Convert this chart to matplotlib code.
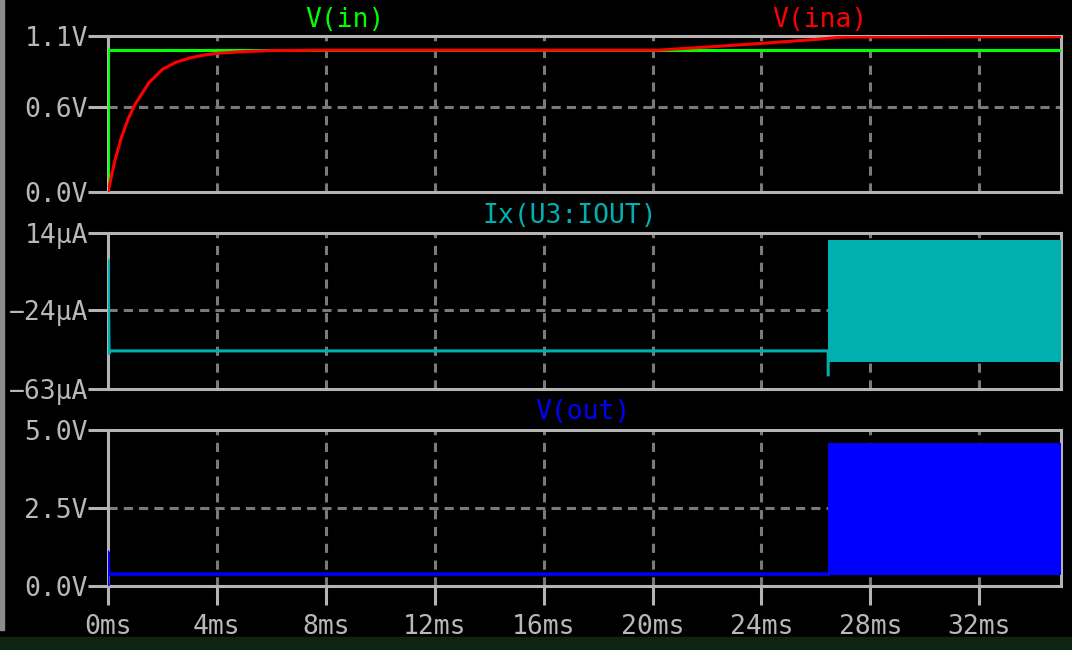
import numpy as np
import matplotlib
matplotlib.use('Agg')
import matplotlib.pyplot as plt
from matplotlib.patches import Rectangle

# ---- data (time in ms) ----
t_in = [0.0, 0.0, 35.0]
v_in = [0.0, 1.0, 1.0]

t_ina = [0.0, 0.25, 0.5, 0.75, 1.0, 1.5, 2.0, 2.5, 3.0, 3.5, 4.0, 5.0, 6.0, 8.0,
         20.2, 21.0, 22.0, 23.0, 24.0, 25.0, 26.0, 27.0, 35.0]
v_ina = [0.0, 0.22, 0.39, 0.52, 0.62, 0.77, 0.865, 0.915, 0.945, 0.965, 0.978, 0.99, 0.997, 1.0,
         1.0, 1.01, 1.022, 1.035, 1.048, 1.062, 1.076, 1.093, 1.095]

t_iout = [0.0, 0.0, 0.04, 0.08, 26.45, 26.45]
i_iout = [-44.2, 0.7, -45.5, -44.2, -44.2, -56.0]
t_iout_osc = [26.45, 35.0]
i_osc_hi = [10.5, 10.5]
i_osc_lo = [-49.5, -49.5]

t_out = [0.0, 0.0, 0.03, 26.45]
v_out = [0.0, 1.09, 0.38, 0.38]
t_out_osc = [26.43, 35.0]
v_osc_hi = [4.58, 4.58]
v_osc_lo = [0.35, 0.35]

xticks = [0, 4, 8, 12, 16, 20, 24, 28, 32]
xlabels = ['{}ms'.format(x) for x in xticks]

FRAME = '#b4b4b4'
GRID = '#7a7a7a'
TXT = '#b8b8b8'
FONT = 'DejaVu Sans Mono'

plt.rcParams['font.family'] = [FONT, 'DejaVu Sans']

fig = plt.figure(figsize=(10.72, 6.5), dpi=100, facecolor='black')

# window edge decorations
fig.add_artist(Rectangle((0, 0), 1, 13 / 650, transform=fig.transFigure,
                         color='#0c2410', zorder=0))
fig.add_artist(Rectangle((0, 20 / 650), 4 / 1072, 1 - 20 / 650, transform=fig.transFigure,
                         color='#8c8c8c', zorder=1))

left, width = 108 / 1072, 953 / 1072
h = 156 / 650
panels = [
    dict(bottom=1 - 192 / 650, ylim=(0, 1.1), yticks=[0.0, 0.6, 1.1],
         ylabels=['0.0V', '0.6V', '1.1V'], grid=0.6),
    dict(bottom=1 - 389 / 650, ylim=(-63, 14), yticks=[-63, -24, 14],
         ylabels=['\u221263\u00b5A', '\u221224\u00b5A', '14\u00b5A'], grid=-24),
    dict(bottom=1 - 586 / 650, ylim=(0, 5), yticks=[0.0, 2.5, 5.0],
         ylabels=['0.0V', '2.5V', '5.0V'], grid=2.5),
]

axes = []
for i, p in enumerate(panels):
    ax = fig.add_axes([left, p['bottom'], width, h], facecolor='black')
    ax.set_xlim(0, 35)
    ax.set_ylim(*p['ylim'])
    for s in ax.spines.values():
        s.set_color(FRAME)
        s.set_linewidth(2.2)
    ax.set_yticks(p['yticks'])
    ax.set_yticklabels(p['ylabels'])
    ax.tick_params(axis='y', direction='out', length=14.5, width=2.2, color=FRAME,
                   labelcolor=TXT, labelsize=19, pad=0)
    ax.set_xticks(xticks)
    if i == 2:
        ax.set_xticklabels(xlabels)
        ax.tick_params(axis='x', direction='out', length=14, width=2.2, color=FRAME,
                       labelcolor=TXT, labelsize=19, pad=6)
    else:
        ax.set_xticklabels([])
        ax.tick_params(axis='x', length=0)
    for x in xticks[1:]:
        ax.axvline(x, color=GRID, lw=2.2, ls=(0, (3, 2.5)), zorder=1)
    ax.axhline(p['grid'], color=GRID, lw=2.2, ls=(0, (3, 2)), zorder=1)
    axes.append(ax)

ax1, ax2, ax3 = axes
ax1.plot(t_in, v_in, color='#00ff00', lw=2.2, zorder=3)
ax1.plot(t_ina, v_ina, color='#ff0000', lw=2.2, zorder=4)

ax2.plot(t_iout, i_iout, color='#00b0b0', lw=2.2, zorder=3)
ax2.fill_between(t_iout_osc, i_osc_lo, i_osc_hi, color='#00b0b0', lw=0, zorder=3)

ax3.plot(t_out, v_out, color='#0000ff', lw=2.4, zorder=3)
ax3.fill_between(t_out_osc, v_osc_lo, v_osc_hi, color='#0000ff', lw=0, zorder=3)

# trace names above each pane
fig.text(345 / 1072, 1 - 20 / 650, 'V(in)', color='#00ff00', fontsize=19, ha='center', va='center')
fig.text(820 / 1072, 1 - 20 / 650, 'V(ina)', color='#ff0000', fontsize=19, ha='center', va='center')
fig.text(570 / 1072, 1 - 216 / 650, 'Ix(U3:IOUT)', color='#00b0b0', fontsize=19, ha='center', va='center')
fig.text(583 / 1072, 1 - 412 / 650, 'V(out)', color='#0000ff', fontsize=19, ha='center', va='center')

fig.savefig('out.png', dpi=100, facecolor='black')
